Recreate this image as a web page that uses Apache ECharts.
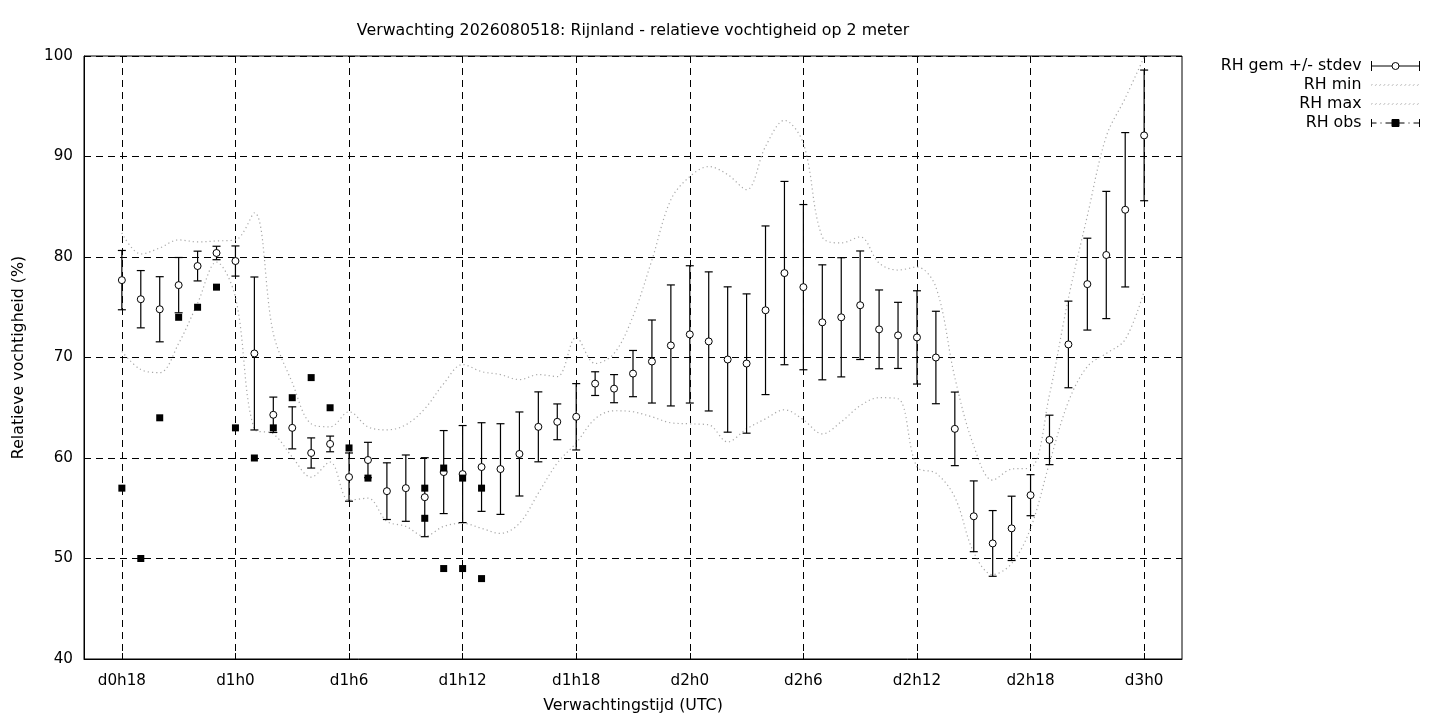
<!DOCTYPE html>
<html>
<head>
<meta charset="utf-8">
<title>Rijnland - relatieve vochtigheid</title>
<script src="https://cdn.jsdelivr.net/npm/echarts@6/dist/echarts.min.js"></script>
<style>
  html, body { margin: 0; padding: 0; background: #fff; }
  #chart { width: 1440px; height: 720px; }
</style>
</head>
<body>
<div id="chart"></div>
<script>
// forecast hours (since d0h0)
const hours = [18, 19, 20, 21, 22, 23, 24, 25, 26, 27, 28, 29, 30, 31, 32, 33, 34, 35, 36, 37,
  38, 39, 40, 41, 42, 43, 44, 45, 46, 47, 48, 49, 50, 51, 52, 53, 54, 55, 56, 57,
  58, 59, 60, 61, 62, 63, 64, 65, 66, 67, 68, 69, 70, 71, 72]

const rhMean = [77.7, 75.8, 74.8, 77.2, 79.1, 80.4, 79.6, 70.4, 64.3, 63.0, 60.5, 61.4, 58.1, 59.8, 56.7, 57.0, 56.1, 58.6, 58.4, 59.1,
  58.9, 60.4, 63.1, 63.6, 64.1, 67.4, 66.9, 68.4, 69.6, 71.2, 72.3, 71.6, 69.8, 69.4, 74.7, 78.4, 77.0, 73.5, 74.0, 75.2,
  72.8, 72.2, 72.0, 70.0, 62.9, 54.2, 51.5, 53.0, 56.3, 61.8, 71.3, 77.3, 80.2, 84.7, 92.1]

const rhStdev = [2.95, 2.85, 3.24, 2.75, 1.48, 0.67, 1.5, 7.61, 1.76, 2.09, 1.5, 0.78, 2.4, 1.76, 2.82, 3.3, 3.93, 4.13, 4.83, 4.41,
  4.51, 4.18, 3.48, 1.78, 3.3, 1.18, 1.4, 2.3, 4.13, 6.02, 6.83, 6.92, 7.23, 6.93, 8.39, 9.12, 8.22, 5.72, 5.93, 5.4,
  3.92, 3.29, 4.64, 4.6, 3.66, 3.52, 3.27, 3.2, 2.04, 2.46, 4.31, 4.57, 6.33, 7.68, 6.5]

const rhMin = [70.6, 68.8, 68.5, 71.4, 75.4, 79.5, 76.0, 62.9, 62.4, 60.1, 58.1, 59.6, 55.8, 56.0, 53.7, 53.2, 52.2, 53.2, 53.5, 53.0,
  52.5, 53.5, 56.5, 59.5, 61.5, 63.9, 64.7, 64.6, 64.1, 63.5, 63.4, 63.3, 61.6, 62.9, 63.9, 64.8, 63.8, 62.4, 63.6, 65.2,
  66.0, 65.9, 59.1, 58.5, 56.1, 50.6, 48.4, 49.5, 53.0, 59.5, 65.6, 69.1, 70.4, 71.8, 76.6]

const rhMax = [82.4, 80.3, 80.9, 81.7, 81.5, 81.6, 81.7, 84.4, 72.4, 67.5, 63.4, 63.1, 64.6, 63.1, 62.8, 63.3, 64.9, 67.4, 69.3, 68.6,
  68.3, 67.8, 68.3, 68.1, 72.0, 69.4, 70.4, 74.1, 79.7, 85.7, 88.0, 89.0, 88.2, 86.7, 91.0, 93.6, 91.3, 82.0, 81.4, 82.0,
  79.4, 78.7, 79.0, 77.0, 68.0, 61.2, 57.8, 58.9, 59.0, 66.3, 75.9, 84.1, 92.0, 95.8, 99.9]

// observations (some hours have two values)
const obsHours = [18, 19, 20, 21, 22, 23, 24, 25, 26, 27, 28, 29, 30, 31, 34, 34, 35, 35, 36, 36, 37, 37]
const obsValues = [57, 50, 64, 74, 75, 77, 63, 60, 63, 66, 68, 65, 61, 58, 57, 54, 59, 49, 58, 49, 57, 48]

const tickHours = [18, 24, 30, 36, 42, 48, 54, 60, 66, 72]
const tickLabels = ['d0h18', 'd1h0', 'd1h6', 'd1h12', 'd1h18', 'd2h0', 'd2h6', 'd2h12', 'd2h18', 'd3h0']

const FONT = 'DejaVu Sans'
const TEXT_SIZE = 15.8
const TICK_SIZE = 15.2
const gridDash = [7, 5]
const dotted = [1.2, 3]
const dotColor = '#a8a8a8'

const chart = echarts.init(document.getElementById('chart'))

const zip = (a, b) => a.map((v, i) => [v, b[i]])

const errIcon = 'path://M0,0L0,10M0,5L20.5,5M27.5,5L48,5M48,0L48,10M27.5,5A3.5,3.5,0,1,1,20.5,5A3.5,3.5,0,1,1,27.5,5Z'
const obsIcon = 'path://M0,1L0,9M0,5L5,5M9,5L10,5M14,5L20.5,5M27.5,5L33,5M37,5L38,5M42,5L48,5M48,1L48,9M20.5,1.5L27.5,1.5L27.5,8.5L20.5,8.5Z'
const lineIcon = 'path://M0,4.5L48,4.5L48,5.5L0,5.5Z'

const option = {
  animation: false,
  backgroundColor: '#fff',
  textStyle: { fontFamily: FONT, color: '#000' },
  title: {
    text: 'Verwachting 2026080518: Rijnland - relatieve vochtigheid op 2 meter',
    left: 628,
    top: 18,
    textAlign: 'center',
    textStyle: { fontFamily: FONT, fontSize: TEXT_SIZE, fontWeight: 'normal', color: '#000' }
  },
  legend: {
    orient: 'vertical',
    right: 20,
    top: 58,
    padding: 0,
    align: 'right',
    itemWidth: 48,
    itemHeight: 10,
    itemGap: 3,
    textStyle: { fontFamily: FONT, fontSize: TEXT_SIZE, color: '#000', lineHeight: 16, padding: [0, 5, 0, 0] },
    data: [
      { name: 'RH gem +/- stdev', icon: errIcon, itemStyle: { color: '#fff', borderColor: '#000', borderWidth: 1, opacity: 1 } },
      { name: 'RH min', icon: lineIcon, itemStyle: { color: 'transparent', borderColor: dotColor, borderWidth: 0.6, borderType: dotted, opacity: 1 } },
      { name: 'RH max', icon: lineIcon, itemStyle: { color: 'transparent', borderColor: dotColor, borderWidth: 0.6, borderType: dotted, opacity: 1 } },
      { name: 'RH obs', icon: obsIcon, itemStyle: { color: '#000', borderColor: '#000', borderWidth: 1, opacity: 1 } }
    ]
  },
  grid: {
    left: 84, right: 258, top: 56, bottom: 61,
    show: true, borderColor: '#000', borderWidth: 1, backgroundColor: 'transparent'
  },
  xAxis: {
    type: 'value',
    min: 16,
    max: 74,
    name: 'Verwachtingstijd (UTC)',
    nameLocation: 'middle',
    nameGap: 39,
    nameTextStyle: { fontFamily: FONT, fontSize: TEXT_SIZE, color: '#000' },
    axisLine: { show: true, lineStyle: { color: '#000', width: 1 } },
    axisTick: { show: true, inside: true, length: 6, customValues: tickHours, lineStyle: { color: '#000' } },
    axisLabel: {
      customValues: tickHours,
      margin: 15,
      fontFamily: FONT, fontSize: TICK_SIZE, color: '#000',
      formatter: v => tickLabels[tickHours.indexOf(v)] || ''
    },
    splitLine: { show: true, lineStyle: { color: '#000', width: 1, type: gridDash } }
  },
  yAxis: {
    type: 'value',
    min: 40,
    max: 100,
    interval: 10,
    name: 'Relatieve vochtigheid (%)',
    nameLocation: 'middle',
    nameGap: 57,
    nameRotate: 90,
    nameTextStyle: { fontFamily: FONT, fontSize: TEXT_SIZE, color: '#000' },
    axisLine: { show: true, lineStyle: { color: '#000', width: 1 } },
    axisTick: { show: true, inside: true, length: 6, lineStyle: { color: '#000' } },
    axisLabel: { margin: 11, padding: [4, 0, 0, 0], fontFamily: FONT, fontSize: TICK_SIZE, color: '#000' },
    splitLine: { show: true, lineStyle: { color: '#000', width: 1, type: gridDash } }
  },
  series: [
    {
      name: 'RH min',
      type: 'line',
      data: zip(hours, rhMin),
      smooth: 0.35,
      showSymbol: false,
      symbol: 'none',
      lineStyle: { color: dotColor, width: 1.2, type: dotted },
      itemStyle: { color: dotColor },
      z: 1
    },
    {
      name: 'RH max',
      type: 'line',
      data: zip(hours, rhMax),
      smooth: 0.35,
      showSymbol: false,
      symbol: 'none',
      lineStyle: { color: dotColor, width: 1.2, type: dotted },
      itemStyle: { color: dotColor },
      z: 1
    },
    {
      name: 'RH gem +/- stdev',
      type: 'custom',
      data: hours.map((h, i) => [h, rhMean[i], rhStdev[i]]),
      encode: { x: 0, y: 1 },
      itemStyle: { color: '#000' },
      renderItem: (params, api) => {
        const x = api.value(0)
        const m = api.value(1)
        const s = api.value(2)
        const top = api.coord([x, m + s])
        const bot = api.coord([x, m - s])
        const cap = 4
        const style = { stroke: '#000', lineWidth: 1.2 }
        return {
          type: 'group',
          children: [
            { type: 'line', shape: { x1: top[0], y1: top[1], x2: bot[0], y2: bot[1] }, style },
            { type: 'line', shape: { x1: top[0] - cap, y1: top[1], x2: top[0] + cap, y2: top[1] }, style },
            { type: 'line', shape: { x1: bot[0] - cap, y1: bot[1], x2: bot[0] + cap, y2: bot[1] }, style }
          ]
        }
      },
      z: 2
    },
    {
      name: 'RH gem +/- stdev',
      type: 'scatter',
      data: zip(hours, rhMean),
      symbol: 'circle',
      symbolSize: 7,
      itemStyle: { color: '#fff', borderColor: '#000', borderWidth: 1, opacity: 1 },
      z: 3
    },
    {
      name: 'RH obs',
      type: 'scatter',
      data: zip(obsHours, obsValues),
      symbol: 'rect',
      symbolSize: 7,
      itemStyle: { color: '#000', opacity: 1 },
      z: 4
    }
  ]
}

chart.setOption(option)
</script>
</body>
</html>
